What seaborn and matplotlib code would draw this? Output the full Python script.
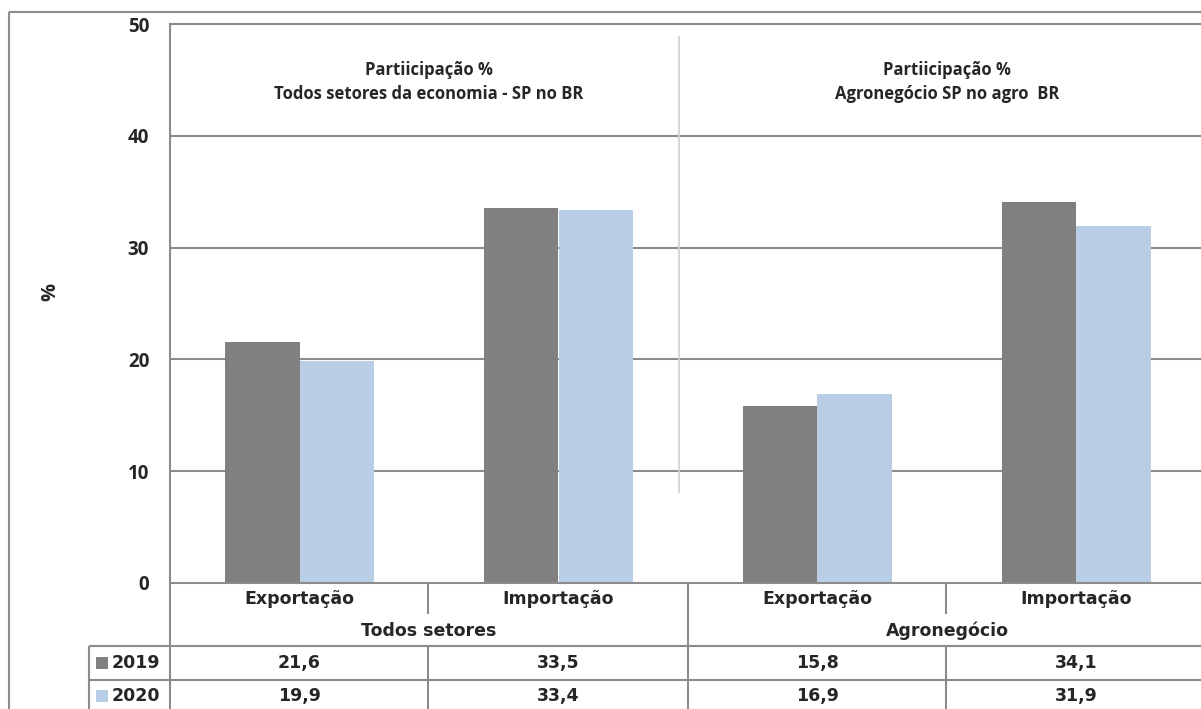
import matplotlib
matplotlib.use("Agg")
import matplotlib.pyplot as plt
import seaborn as sns
import pandas as pd

# data
categories = ["Exportação", "Importação", "Exportação ", "Importação "]
cat_labels = ["Exportação", "Importação", "Exportação", "Importação"]
groups = ["Todos setores", "Agronegócio"]
years = ["2019", "2020"]
values_2019 = [21.6, 33.5, 15.8, 34.1]
values_2020 = [19.9, 33.4, 16.9, 31.9]
yticks = [0, 10, 20, 30, 40, 50]
titles = ["Partiicipação %\nTodos setores da economia - SP no BR",
          "Partiicipação %\nAgronegócio SP no agro  BR"]

colors = {"2019": "#808080", "2020": "#B9CDE5"}
line_c = "#8c8c8c"
title_font = ["Open Sans", "DejaVu Sans"]
table_font = ["DejaVu Sans"]

df = pd.DataFrame({
    "cat": categories * 2,
    "year": ["2019"] * 4 + ["2020"] * 4,
    "val": values_2019 + values_2020,
})

sns.set_theme(style="white")
W, H = 1201, 709
fig = plt.figure(figsize=(W / 100, H / 100), dpi=100)

# plot area in pixels: left 170, right 1206, top 24, bottom 583
L, R, T, B = 170, 1206, 24, 583
ax = fig.add_axes([L / W, (H - B) / H, (R - L) / W, (B - T) / H])

sns.barplot(data=df, x="cat", y="val", hue="year", palette=colors,
            width=0.575, gap=0, saturation=1, linewidth=0, ax=ax, legend=False)

ax.set_xlim(-0.5, 3.5)
ax.set_ylim(0, 50)
ax.set_yticks(yticks)
ax.set_yticklabels([str(t) for t in yticks], fontweight="bold",
                   fontsize=13.5, family=title_font)
ax.set_xticks([])
ax.set_xlabel("")
ax.set_ylabel("")
ax.tick_params(axis="y", length=0, pad=15)
for y in yticks[1:]:
    ax.axhline(y, color=line_c, lw=1.5, zorder=0)
for s in ["left", "bottom", "top"]:
    ax.spines[s].set_color(line_c)
    ax.spines[s].set_linewidth(1.5)
ax.spines["right"].set_visible(False)

# titles inside plot
for g, t in enumerate(titles):
    ax.text(2 * g + 0.5, 44.8, t, ha="center", va="center", fontsize=12,
            fontweight="bold", family=title_font, linespacing=1.45)

# overlay in pixel coords for borders and table lines
ov = fig.add_axes([0, 0, 1, 1], facecolor="none")
ov.set_xlim(0, W)
ov.set_ylim(H, 0)
ov.axis("off")

def hline(y, x0, x1, c=line_c, lw=1.5):
    ov.plot([x0, x1], [y, y], color=c, lw=lw, solid_capstyle="butt")

def vline(x, y0, y1, c=line_c, lw=1.5):
    ov.plot([x, x], [y0, y1], color=c, lw=lw, solid_capstyle="butt")

# outer chart border
hline(12, 9, W)
vline(9, 12, H)

# separator between panels
vline(679, 36, 493, c="#d0d0d0", lw=1.2)

# table grid: rows 583-614 categories, 614-646 groups, 646-680 2019, 680- 2020
vline(L, B, H)
vline(89, 646, H)
for y in [646, 680]:
    hline(y, 89, W)
for x in [428, 946]:
    vline(x, B, 614)
    vline(x, 646, H)
vline(688, B, H)

# y label
fig.text(50 / W, (H - 292) / H, "%", rotation=90, ha="center", va="center",
         fontsize=14.5, fontweight="bold", family=title_font)

# table text, x from the bar axis
tr = ax.get_xaxis_transform()
def yf(py):
    return (B - py) / (B - T)

fs = 12.5
for i, lab in enumerate(cat_labels):
    ax.text(i, yf(599), lab, transform=tr, ha="center", va="center",
            fontsize=fs, fontweight="bold", family=table_font, clip_on=False)
for g, lab in enumerate(groups):
    ax.text(2 * g + 0.5, yf(631), lab, transform=tr, ha="center", va="center",
            fontsize=fs, fontweight="bold", family=table_font, clip_on=False)
for i in range(4):
    ax.text(i, yf(663), f"{values_2019[i]:.1f}".replace(".", ","), transform=tr,
            ha="center", va="center", fontsize=fs, fontweight="bold",
            family=table_font, clip_on=False)
    ax.text(i, yf(696), f"{values_2020[i]:.1f}".replace(".", ","), transform=tr,
            ha="center", va="center", fontsize=fs, fontweight="bold",
            family=table_font, clip_on=False)

# legend keys in table
for yr, py in zip(years, [663, 696]):
    ov.add_patch(plt.Rectangle((96, py - 6), 12, 12, color=colors[yr], lw=0))
    ov.text(112, py, yr, ha="left", va="center", fontsize=fs,
            fontweight="bold", family=table_font)

fig.savefig("out.png", dpi=100)
